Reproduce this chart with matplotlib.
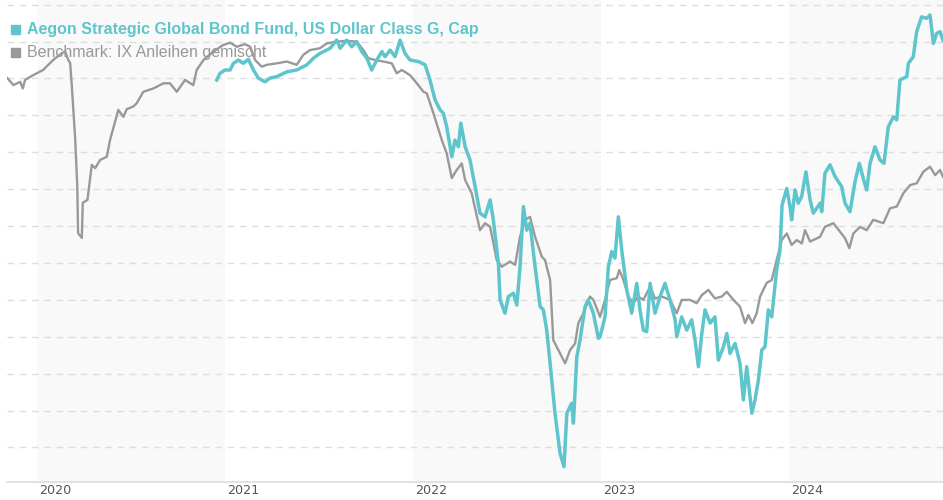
import matplotlib
matplotlib.use("Agg")
import matplotlib.pyplot as plt
import matplotlib.transforms as mtransforms
import numpy as np

# decimal-year dates and index values
bench_t = [2019.842, 2019.874, 2019.910, 2019.924, 2019.936, 2019.979, 2020.032, 2020.085,
           2020.133, 2020.149, 2020.166, 2020.176, 2020.185, 2020.202, 2020.214, 2020.218,
           2020.238, 2020.243, 2020.268, 2020.291, 2020.309, 2020.335, 2020.371, 2020.388,
           2020.432, 2020.459, 2020.477, 2020.512, 2020.530, 2020.565, 2020.619, 2020.672,
           2020.707, 2020.743, 2020.787, 2020.831, 2020.849, 2020.885, 2020.938, 2020.991,
           2021.027, 2021.062, 2021.106, 2021.133, 2021.160, 2021.195, 2021.222, 2021.275,
           2021.328, 2021.381, 2021.416, 2021.452, 2021.505, 2021.541, 2021.594, 2021.647,
           2021.700, 2021.736, 2021.762, 2021.798, 2021.842, 2021.887, 2021.913, 2021.940,
           2021.984, 2022.028, 2022.055, 2022.073, 2022.108, 2022.153, 2022.179, 2022.206,
           2022.232, 2022.259, 2022.277, 2022.312, 2022.356, 2022.383, 2022.410, 2022.445,
           2022.472, 2022.516, 2022.543, 2022.569, 2022.596, 2022.622, 2022.649, 2022.685,
           2022.702, 2022.729, 2022.746, 2022.764, 2022.791, 2022.809, 2022.835, 2022.862,
           2022.879, 2022.906, 2022.941, 2022.959, 2022.995, 2023.021, 2023.048, 2023.084,
           2023.097, 2023.119, 2023.145, 2023.172, 2023.198, 2023.225, 2023.261, 2023.287,
           2023.323, 2023.367, 2023.403, 2023.429, 2023.473, 2023.509, 2023.536, 2023.571,
           2023.606, 2023.642, 2023.669, 2023.704, 2023.739, 2023.766, 2023.784, 2023.805,
           2023.828, 2023.846, 2023.881, 2023.908, 2023.934, 2023.961, 2023.988, 2024.014,
           2024.041, 2024.068, 2024.085, 2024.112, 2024.165, 2024.191, 2024.236, 2024.271,
           2024.298, 2024.321, 2024.342, 2024.378, 2024.413, 2024.448, 2024.502, 2024.537,
           2024.573, 2024.608, 2024.644, 2024.679, 2024.714, 2024.750, 2024.777, 2024.803,
           2024.819]
bench_v = [98.01, 97.82, 97.91, 97.73, 97.96, 98.09, 98.23, 98.50,
           98.69, 98.73, 98.50, 98.42, 97.78, 96.42, 95.07, 93.81,
           93.68, 94.63, 94.71, 95.66, 95.57, 95.79, 95.88, 96.33,
           97.15, 96.96, 97.17, 97.24, 97.33, 97.64, 97.73, 97.87,
           97.87, 97.64, 97.96, 97.82, 98.23, 98.50, 98.73, 98.91,
           98.97, 98.86, 98.93, 98.86, 98.50, 98.32, 98.37, 98.41,
           98.46, 98.37, 98.64, 98.77, 98.82, 98.95, 99.00, 99.02,
           99.00, 98.77, 98.55, 98.50, 98.46, 98.41, 98.14, 98.23,
           98.09, 97.82, 97.64, 97.60, 97.06, 96.33, 95.97, 95.30,
           95.52, 95.70, 95.25, 94.89, 93.89, 94.08, 93.98, 93.08,
           92.90, 93.04, 92.95, 93.71, 94.17, 94.25, 93.71, 93.17,
           93.08, 92.54, 90.91, 90.73, 90.46, 90.28, 90.64, 90.82,
           91.37, 91.64, 92.09, 92.00, 91.54, 92.00, 92.54, 92.59,
           92.81, 92.54, 92.09, 91.91, 92.09, 92.00, 92.36, 92.04,
           92.09, 92.00, 91.64, 92.00, 92.00, 91.91, 92.13, 92.27,
           92.04, 92.09, 92.22, 92.00, 91.82, 91.37, 91.59, 91.37,
           91.64, 92.09, 92.46, 92.54, 93.08, 93.62, 93.80, 93.49,
           93.62, 93.53, 93.89, 93.58, 93.71, 93.98, 94.08, 93.85,
           93.67, 93.40, 93.80, 93.98, 93.89, 94.17, 94.08, 94.48,
           94.53, 94.89, 95.11, 95.16, 95.47, 95.61, 95.38, 95.52,
           95.34]

fund_t = [2020.956, 2020.973, 2021.000, 2021.027, 2021.044, 2021.071, 2021.097, 2021.124,
          2021.151, 2021.177, 2021.213, 2021.239, 2021.275, 2021.328, 2021.381, 2021.435,
          2021.470, 2021.505, 2021.559, 2021.594, 2021.612, 2021.647, 2021.674, 2021.700,
          2021.727, 2021.754, 2021.780, 2021.807, 2021.834, 2021.851, 2021.878, 2021.904,
          2021.931, 2021.957, 2021.984, 2022.028, 2022.064, 2022.090, 2022.117, 2022.144,
          2022.161, 2022.179, 2022.206, 2022.223, 2022.241, 2022.254, 2022.277, 2022.303,
          2022.330, 2022.356, 2022.383, 2022.410, 2022.427, 2022.454, 2022.463, 2022.489,
          2022.507, 2022.534, 2022.552, 2022.569, 2022.587, 2022.605, 2022.622, 2022.649,
          2022.676, 2022.693, 2022.711, 2022.729, 2022.755, 2022.782, 2022.803, 2022.818,
          2022.844, 2022.853, 2022.871, 2022.888, 2022.915, 2022.932, 2022.959, 2022.986,
          2022.995, 2023.021, 2023.039, 2023.057, 2023.074, 2023.092, 2023.110, 2023.137,
          2023.163, 2023.190, 2023.207, 2023.225, 2023.243, 2023.261, 2023.287, 2023.314,
          2023.340, 2023.367, 2023.394, 2023.403, 2023.429, 2023.456, 2023.482, 2023.500,
          2023.518, 2023.536, 2023.553, 2023.580, 2023.606, 2023.624, 2023.651, 2023.669,
          2023.686, 2023.713, 2023.739, 2023.757, 2023.775, 2023.802, 2023.819, 2023.837,
          2023.855, 2023.872, 2023.890, 2023.908, 2023.934, 2023.952, 2023.963, 2023.988,
          2024.005, 2024.014, 2024.032, 2024.049, 2024.067, 2024.090, 2024.112, 2024.129,
          2024.165, 2024.174, 2024.191, 2024.218, 2024.245, 2024.280, 2024.298, 2024.324,
          2024.351, 2024.374, 2024.397, 2024.413, 2024.431, 2024.457, 2024.484, 2024.505,
          2024.528, 2024.555, 2024.573, 2024.590, 2024.626, 2024.635, 2024.661, 2024.679,
          2024.705, 2024.732, 2024.750, 2024.768, 2024.785, 2024.803, 2024.819]
fund_v = [97.96, 98.14, 98.23, 98.23, 98.41, 98.50, 98.41, 98.52,
          98.23, 98.01, 97.91, 98.01, 98.05, 98.18, 98.23, 98.37,
          98.55, 98.68, 98.82, 99.04, 98.82, 99.04, 98.86, 99.00,
          98.73, 98.55, 98.23, 98.50, 98.73, 98.59, 98.77, 98.59,
          99.04, 98.68, 98.50, 98.46, 98.37, 97.96, 97.42, 97.15,
          97.06, 96.69, 95.88, 96.33, 96.15, 96.79, 96.15, 95.79,
          95.07, 94.35, 94.25, 94.71, 94.17, 92.99, 92.00, 91.64,
          92.09, 92.18, 91.86, 92.90, 94.53, 93.89, 94.08, 92.90,
          91.82, 91.73, 91.18, 90.28, 88.93, 87.84, 87.48, 88.93,
          89.20, 88.66, 90.46, 90.91, 91.82, 92.00, 91.64, 90.96,
          91.00, 91.54, 92.90, 93.31, 93.13, 94.25, 93.35, 92.27,
          91.64, 92.45, 91.73, 91.18, 91.14, 92.45, 91.64, 92.09,
          92.45, 92.00, 91.46, 91.00, 91.54, 91.18, 91.46, 90.91,
          90.19, 91.09, 91.73, 91.37, 91.54, 90.37, 90.73, 91.09,
          90.55, 90.82, 90.28, 89.29, 90.19, 88.93, 89.29, 89.83,
          90.64, 90.73, 91.73, 91.54, 92.81, 93.35, 94.57, 95.02,
          94.53, 94.17, 94.98, 94.62, 94.80, 95.47, 94.71, 94.35,
          94.62, 94.39, 95.43, 95.66, 95.34, 95.07, 94.62, 94.39,
          95.20, 95.70, 95.25, 94.98, 95.70, 96.15, 95.79, 95.70,
          96.69, 96.96, 96.88, 97.96, 98.05, 98.41, 98.59, 99.27,
          99.67, 99.63, 99.72, 98.95, 99.22, 99.27, 99.04]

years = [2020, 2021, 2022, 2023, 2024]
shaded_years = [2020, 2022, 2024]
grid_levels = list(range(88, 101))

fund_label = "Aegon Strategic Global Bond Fund, US Dollar Class G, Cap"
bench_label = "Benchmark: IX Anleihen gemischt"

fund_color = "#5ec5cc"
bench_color = "#999999"

fig = plt.figure(figsize=(9.43, 5.0), dpi=100)
ax = fig.add_axes([7 / 943, 18 / 500, 936 / 943, 482 / 500])

x_min, x_max = 2019.840, 2024.819
ax.set_xlim(x_min, x_max)
ax.set_ylim(87.065, 100.127)

for yr in shaded_years:
    ax.axvspan(yr, min(yr + 1, x_max), color="#f9f9f9", lw=0, zorder=0)

for lv in grid_levels:
    ax.axhline(lv, color="#dedede", lw=1.0, ls=(0, (4.8, 4.0)), zorder=1)

ax.plot(bench_t, bench_v, color=bench_color, lw=1.7, zorder=3, solid_joinstyle="round")
ax.plot(fund_t, fund_v, color=fund_color, lw=2.5, zorder=4, solid_joinstyle="round")

for s in ["left", "right", "top"]:
    ax.spines[s].set_visible(False)
ax.spines["bottom"].set_color("#dddddd")
ax.spines["bottom"].set_linewidth(1.2)
ax.set_xticks([])
ax.set_yticks([])

trans = mtransforms.blended_transform_factory(ax.transData, ax.transAxes)
for yr in years:
    ax.text(yr + 0.01, -0.017, str(yr), transform=trans, ha="left", va="center",
            fontsize=9.2, color="#555555", family="DejaVu Sans", clip_on=False)

# legend drawn as text over the plot
fig.patches.append(plt.Rectangle((11 / 943, 1 - 34 / 500), 9 / 943, 9 / 500,
                                 transform=fig.transFigure, color=fund_color, zorder=10))
fig.patches.append(plt.Rectangle((11 / 943, 1 - 57 / 500), 9 / 943, 9 / 500,
                                 transform=fig.transFigure, color=bench_color, zorder=10))
fig.text(27 / 943, 1 - 29.5 / 500, fund_label, ha="left", va="center", fontsize=11.5,
         fontweight="bold", color=fund_color, family="Liberation Sans", zorder=10)
fig.text(27 / 943, 1 - 52.5 / 500, bench_label, ha="left", va="center", fontsize=11.5,
         color=bench_color, family="Liberation Sans", zorder=10)

fig.savefig("out.png", dpi=100)
